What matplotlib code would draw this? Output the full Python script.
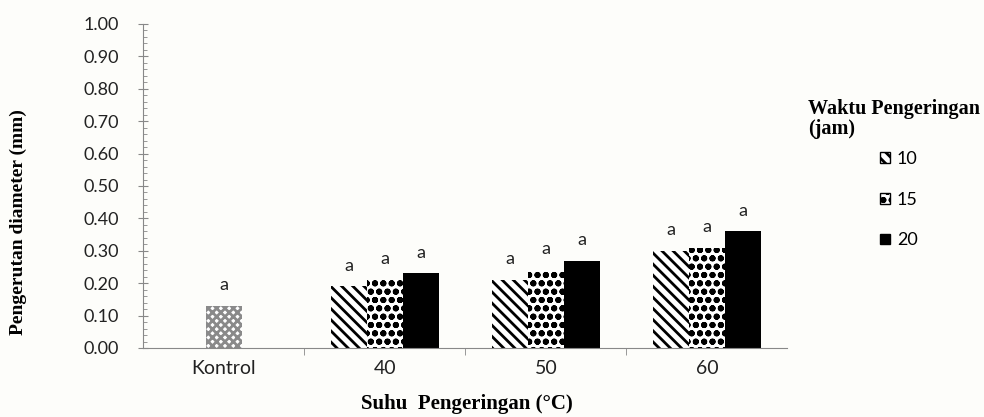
import matplotlib
matplotlib.use("Agg")
import matplotlib.pyplot as plt
import numpy as np
from matplotlib.patches import Patch
from matplotlib.ticker import MultipleLocator

plt.rcParams["hatch.linewidth"] = 2.0

categories = ["Kontrol", "40", "50", "60"]
kontrol_value = 0.13
waktu = ["10", "15", "20"]
values = {
    "10": [0.19, 0.21, 0.30],
    "15": [0.21, 0.24, 0.31],
    "20": [0.23, 0.27, 0.36],
}
kontrol_label = "a"
labels = {
    "10": ["a", "a", "a"],
    "15": ["a", "a", "a"],
    "20": ["a", "a", "a"],
}

sans = ["Lato", "DejaVu Sans"]
serif = ["Liberation Serif", "DejaVu Serif"]
txt_color = "#222222"

styles = {
    "10": dict(facecolor="white", edgecolor="black", hatch="\\\\\\"),
    "15": dict(facecolor="white", edgecolor="black", hatch="oo"),
    "20": dict(facecolor="black", edgecolor="black", hatch=None),
}

fig = plt.figure(figsize=(9.84, 4.17), dpi=100)
fig.patch.set_facecolor("#fdfdfa")
ax = fig.add_axes([0.1453, 0.1655, 0.655, 0.777])
ax.set_facecolor("none")

width = 0.223
x = np.arange(len(categories))


def put_label(xpos, val, lab):
    ax.annotate(lab, (xpos, val), xytext=(0, 15), textcoords="offset points",
                ha="center", va="center", fontsize=13, family=sans,
                color=txt_color)


# kontrol bar
ax.bar(x[0], kontrol_value, width, facecolor="white", edgecolor="#8a8a8a",
       hatch="xxxx", linewidth=0)
put_label(x[0], kontrol_value, kontrol_label)

for i, w in enumerate(waktu):
    pos = x[1:] + (i - 1) * width
    ax.bar(pos, values[w], width, linewidth=0, label=w, **styles[w])
    for p, v, lab in zip(pos, values[w], labels[w]):
        put_label(p, v, lab)

ax.set_xlim(-0.5, len(categories) - 0.5)
ax.set_ylim(0, 1.0)
ax.yaxis.set_major_locator(MultipleLocator(0.1))
ax.yaxis.set_minor_locator(MultipleLocator(0.02))
ax.yaxis.set_major_formatter(plt.FuncFormatter(lambda v, _: f"{v:.2f}"))

ax.set_xticks(x)
ax.set_xticklabels(categories)
ax.set_xticks(np.arange(0.5, len(categories) - 1, 1.0), minor=True)
ax.tick_params(axis="x", which="major", length=0, pad=9)
ax.tick_params(axis="x", which="minor", length=5, color="#888888")
ax.tick_params(axis="y", which="major", length=7, direction="inout",
               color="#888888", pad=14)
ax.tick_params(axis="y", which="minor", length=3, direction="in",
               color="#888888")
for lab in ax.get_xticklabels():
    lab.set_family(sans)
    lab.set_fontsize(14)
    lab.set_color(txt_color)
for lab in ax.get_yticklabels():
    lab.set_family(sans)
    lab.set_fontsize(13)
    lab.set_color(txt_color)

for s in ["top", "right"]:
    ax.spines[s].set_visible(False)
for s in ["left", "bottom"]:
    ax.spines[s].set_color("#888888")

ax.set_xlabel("Suhu  Pengeringan (°C)", family=serif, fontweight="bold",
              fontsize=15)
ax.xaxis.set_label_coords(0.502, -0.142)
ax.set_ylabel("Pengerutan diameter (mm)", family=serif, fontweight="bold",
              fontsize=14)
ax.yaxis.set_label_coords(-0.18, 0.39)

fig.text(0.821, 0.7146, "Waktu Pengeringan\n(jam)", family=serif,
         fontweight="bold", fontsize=14.5, ha="left", va="center",
         linespacing=1.0)
handles = [Patch(label=w, **styles[w]) for w in waktu]
fig.legend(handles=handles, loc="upper left", bbox_to_anchor=(0.894, 0.638),
           frameon=False, borderpad=0, borderaxespad=0,
           handlelength=0.55, handleheight=0.55, handletextpad=0.4,
           labelspacing=1.37, prop={"family": sans, "size": 13})

fig.savefig("out.png", dpi=100, facecolor=fig.get_facecolor())
